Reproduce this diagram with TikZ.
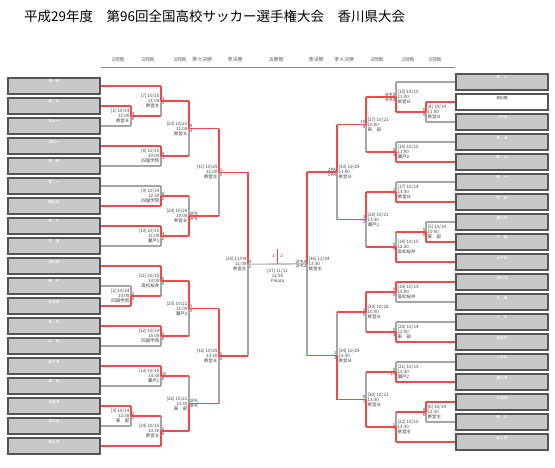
\documentclass[tikz,border=0pt]{standalone}
\usepackage{fontspec}
\setmainfont{Noto Sans CJK JP}
\usetikzlibrary{calc}
\definecolor{wr}{RGB}{242,72,72}
\definecolor{lg}{RGB}{165,165,165}
\definecolor{bx}{RGB}{200,200,200}
\definecolor{bd}{RGB}{85,85,85}
\tikzset{
 W/.style={draw=wr, line width=1.3pt},
 G/.style={draw=lg, line width=1.1pt},
 half t t/.style={W}, half t b/.style={G}, half b t/.style={G}, half b b/.style={W},
 team/.style={draw=bd, fill=bx, line width=1.2pt, minimum width=92pt, minimum height=16pt, inner sep=0pt},
 tname/.style={font=\fontsize{3.8}{4.5}\selectfont, text=white, inner sep=0pt},
 sc/.style={font=\fontsize{4.4}{5}\selectfont, inner sep=0.6pt, text=black!75},
 info/.style={font=\fontsize{4.5}{5}\selectfont, inner sep=0.5pt, text=black!75},
 hdr/.style={font=\fontsize{5}{5.5}\selectfont, text=black!60, inner sep=0pt},
}
\newcommand{\mL}[8]{%
 \coordinate (#1x) at (#2,0);
 \coordinate (#1t) at (#3 -| #1x);
 \coordinate (#1b) at (#4 -| #1x);
 \coordinate (#1) at ($(#1t)!0.5!(#1b)$);
 \draw[half #5 t] (#1t) -- (#1);
 \draw[half #5 b] (#1) -- (#1b);
 \node[sc, anchor=south west] (#1s1) at (#1) {#6};
 \node[sc, anchor=north west] (#1s2) at (#1) {#7};
 \node[info, anchor=east, align=right] (#1i) at ([xshift=-1pt]#1) {#8};
}
\newcommand{\mR}[8]{%
 \coordinate (#1x) at (#2,0);
 \coordinate (#1t) at (#3 -| #1x);
 \coordinate (#1b) at (#4 -| #1x);
 \coordinate (#1) at ($(#1t)!0.5!(#1b)$);
 \draw[half #5 t] (#1t) -- (#1);
 \draw[half #5 b] (#1) -- (#1b);
 \node[sc, anchor=south east] (#1s1) at (#1) {#6};
 \node[sc, anchor=north east] (#1s2) at (#1) {#7};
 \node[info, anchor=west, align=left] (#1i) at ([xshift=1pt]#1) {#8};
}
\begin{document}
\begin{tikzpicture}[x=1pt,y=-1pt]
\useasboundingbox (0,0) rectangle (555,467);
\fill[white] (0,0) rectangle (555,467);
% title
\node[font=\fontsize{13.5}{15}\selectfont, anchor=west, inner sep=0pt] (title) at (24,16) {平成29年度　第96回全国高校サッカー選手権大会　香川県大会};
% round header
\foreach \t/\x [count=\k] in {1回戦/118,2回戦/148,3回戦/180,準々決勝/202,準決勝/235,決勝戦/276,準決勝/316,準々決勝/344,3回戦/377,2回戦/408,1回戦/435}
  \node[hdr] (h\k) at (\x,60) {\t};
\coordinate (hl) at (101,67);
\coordinate (hr) at (455,67);
\draw[draw=black!45, line width=1pt] (hl) -- (hr);
% teams left
\foreach \n [count=\i from 0] in {香川西,坂　出,坂出一,高松一,英　明,善　一,観総合,琴　平,志　度,高松南,藤　井,高専高,高　松,石　田,高中央,津　田,多度津,香中央,坂出商}{
  \node[team] (L\i) at (54,{86+20*\i}) {};
  \node[tname, anchor=north] (L\i n) at ([yshift=-2.2pt]L\i.north) {\n};
}
% teams right
\foreach \n [count=\i from 0] in {寒　川,高松商,小中央,高　瀬,飯　山,観　一,笠　田,高松西,尽　誠,大手前,高松北,丸　亀,三　木,高専詫,三本松,高松東,丸城西,観　山,高工芸}{
  \node[team] (R\i) at (502,{82+20*\i}) {};
  \node[tname, anchor=north] (R\i n) at ([yshift=-2.2pt]R\i.north) {\n};
}
\node[team, fill=white] (R1w) at (R1) {};
\node[tname, anchor=north, text=black!80] (R1wn) at ([yshift=-2.2pt]R1w.north) {高松商};

% ---------- left side ----------
\mL{m1}{131}{L1.east}{L2.east}{t}{4}{0}{[1] 10/14\\11:00\\県営Ｂ}
\draw[W] (L1.east) -- (m1t); \draw[G] (L2.east) -- (m1b);
\mL{m2}{131}{L10.east}{L11.east}{b}{2}{3}{[2] 10/14\\10:00\\四国学院}
\draw[G] (L10.east) -- (m2t); \draw[W] (L11.east) -- (m2b);
\mL{m3}{131}{L16.east}{L17.east}{t}{2}{1}{[3] 10/14\\12:30\\東　部}
\draw[W] (L16.east) -- (m3t); \draw[G] (L17.east) -- (m3b);

\mL{m7}{161}{L0.east}{m1}{t}{3}{0}{[7] 10/15\\11:00\\県営主}
\draw[W] (L0.east) -- (m7t); \draw[W] (m1) -- (m7b);
\mL{m8}{161}{L3.east}{L4.east}{t}{4}{1}{[8] 10/15\\10:00\\四国学院}
\draw[W] (L3.east) -- (m8t); \draw[G] (L4.east) -- (m8b);
\mL{m9}{161}{L5.east}{L6.east}{b}{0}{2}{[9] 10/14\\12:30\\四国学院}
\draw[G] (L5.east) -- (m9t); \draw[W] (L6.east) -- (m9b);
\mL{m10}{161}{L7.east}{L8.east}{t}{4}{2}{[10] 10/15\\11:00\\瀬戸1}
\draw[W] (L7.east) -- (m10t); \draw[G] (L8.east) -- (m10b);
\mL{m11}{161}{L9.east}{m2}{t}{6}{0}{[11] 10/15\\13:00\\高松桜井}
\draw[W] (L9.east) -- (m11t); \draw[W] (m2) -- (m11b);
\mL{m12}{161}{L12.east}{L13.east}{t}{5}{0}{[12] 10/14\\15:00\\四国学院}
\draw[W] (L12.east) -- (m12t); \draw[G] (L13.east) -- (m12b);
\mL{m13}{161}{L14.east}{L15.east}{t}{10}{0}{[13] 10/15\\13:30\\瀬戸1}
\draw[W] (L14.east) -- (m13t); \draw[G] (L15.east) -- (m13b);
\mL{m14}{161}{m3}{L18.east}{b}{2}{6}{[14] 10/15\\13:30\\県営Ｂ}
\draw[W] (m3) -- (m14t); \draw[W] (L18.east) -- (m14b);

\mL{m23}{189}{m7}{m8}{t}{9}{0}{[23] 10/21\\11:00\\県営Ｂ}
\draw[W] (m7) -- (m23t); \draw[W] (m8) -- (m23b);
\mL{m24}{189}{m9}{m10}{b}{0PK}{0PK}{[24] 10/28\\10:00\\県営Ｂ}
\draw[W] (m9) -- (m24t); \draw[W] (m10) -- (m24b);
\mL{m25}{189}{m11}{m12}{t}{1}{0}{[25] 10/21\\11:00\\瀬戸2}
\draw[W] (m11) -- (m25t); \draw[W] (m12) -- (m25b);
\mL{m26}{189}{m13}{m14}{b}{2PK}{4PK}{[26] 10/21\\13:30\\東　部}
\draw[W] (m13) -- (m26t); \draw[W] (m14) -- (m26b);

\mL{m31}{219}{m23}{m24}{t}{1}{0}{[31] 10/29\\11:00\\県営主}
\draw[W] (m23) -- (m31t); \draw[W] (m24) -- (m31b);
\mL{m32}{219}{m25}{m26}{t}{1}{0}{[32] 10/29\\13:30\\県営Ｂ}
\draw[W] (m25) -- (m32t); \draw[W] (m26) -- (m32b);

\mL{m35}{248}{m31}{m32}{t}{4}{1}{[35] 11/04\\11:00\\県営主}
\draw[W] (m31) -- (m35t); \draw[W] (m32) -- (m35b);

% ---------- right side ----------
\mR{m4}{426}{R1.west}{R2.west}{t}{6}{0}{[4] 10/14\\11:00\\県営Ｂ}
\draw[W] (R1.west) -- (m4t); \draw[G] (R2.west) -- (m4b);
\mR{m5}{426}{R7.west}{R8.west}{b}{5}{8}{[5] 10/14\\10:00\\東　部}
\draw[G] (R7.west) -- (m5t); \draw[W] (R8.west) -- (m5b);
\mR{m6}{426}{R16.west}{R17.west}{t}{8}{0}{[6] 10/14\\12:30\\県営主}
\draw[W] (R16.west) -- (m6t); \draw[G] (R17.west) -- (m6b);

\mR{m15}{396}{R0.west}{m4}{b}{3PK0}{3PK4}{[15] 10/15\\11:00\\県営Ｂ}
\draw[G] (R0.west) -- (m15t); \draw[W] (m4) -- (m15b);
\mR{m16}{396}{R3.west}{R4.west}{b}{0}{3}{[16] 10/15\\11:00\\瀬戸2}
\draw[G] (R3.west) -- (m16t); \draw[W] (R4.west) -- (m16b);
\mR{m17}{396}{R5.west}{R6.west}{b}{1}{7}{[17] 10/14\\13:30\\県営Ｂ}
\draw[G] (R5.west) -- (m17t); \draw[W] (R6.west) -- (m17b);
\mR{m18}{396}{m5}{R9.west}{b}{0}{4}{[18] 10/15\\12:30\\高松桜井}
\draw[W] (m5) -- (m18t); \draw[W] (R9.west) -- (m18b);
\mR{m19}{396}{R10.west}{R11.west}{t}{7}{0}{[19] 10/15\\15:00\\高松桜井}
\draw[W] (R10.west) -- (m19t); \draw[G] (R11.west) -- (m19b);
\mR{m20}{396}{R12.west}{R13.west}{b}{0}{3}{[20] 10/14\\12:00\\東　部}
\draw[G] (R12.west) -- (m20t); \draw[W] (R13.west) -- (m20b);
\mR{m21}{396}{R14.west}{R15.west}{b}{0}{15}{[21] 10/15\\13:30\\瀬戸2}
\draw[G] (R14.west) -- (m21t); \draw[W] (R15.west) -- (m21b);
\mR{m22}{396}{m6}{R18.west}{b}{1}{7}{[22] 10/15\\13:30\\県営主}
\draw[W] (m6) -- (m22t); \draw[W] (R18.west) -- (m22b);

\mR{m27}{366}{m15}{m16}{t}{10}{0}{[27] 10/21\\10:00\\東　部}
\draw[W] (m15) -- (m27t); \draw[W] (m16) -- (m27b);
\mR{m28}{366}{m17}{m18}{t}{3}{2}{[28] 10/21\\13:30\\瀬戸2}
\draw[W] (m17) -- (m28t); \draw[W] (m18) -- (m28b);
\mR{m29}{366}{m19}{m20}{t}{1}{0}{[29] 10/28\\10:00\\県営Ｂ}
\draw[W] (m19) -- (m29t); \draw[W] (m20) -- (m29b);
\mR{m30}{366}{m21}{m22}{b}{0}{7}{[30] 10/21\\13:30\\県営Ｂ}
\draw[W] (m21) -- (m30t); \draw[W] (m22) -- (m30b);

\mR{m33}{337}{m27}{m28}{t}{2PK}{0PK}{[33] 10/29\\11:00\\県営Ｂ}
\draw[W] (m27) -- (m33t); \draw[W] (m28) -- (m33b);
\mR{m34}{337}{m29}{m30}{b}{1}{2}{[34] 10/29\\13:30\\県営Ｂ}
\draw[W] (m29) -- (m34t); \draw[W] (m30) -- (m34b);

\mR{m36}{307}{m33}{m34}{t}{2PK4}{2PK2}{[36] 11/04\\13:30\\県営主}
\draw[W] (m33) -- (m36t); \draw[W] (m34) -- (m36b);

% ---------- final ----------
\coordinate (m37) at ($(m35)!0.5!(m36)$);
\coordinate (champ) at ([yshift=15pt]m37);
\draw[G] (m35) -- (m36);
\draw[W] (m37) -- (champ);
\node[sc, anchor=south east] (f1) at ([xshift=-2pt,yshift=6pt]m37) {1};
\node[sc, anchor=south west] (f2) at ([xshift=2pt,yshift=6pt]m37) {2};
\node[info, anchor=north, align=center] (m37i) at ([yshift=-4pt]m37) {[37] 11/11\\12:05\\Pikara};
\end{tikzpicture}
\end{document}
